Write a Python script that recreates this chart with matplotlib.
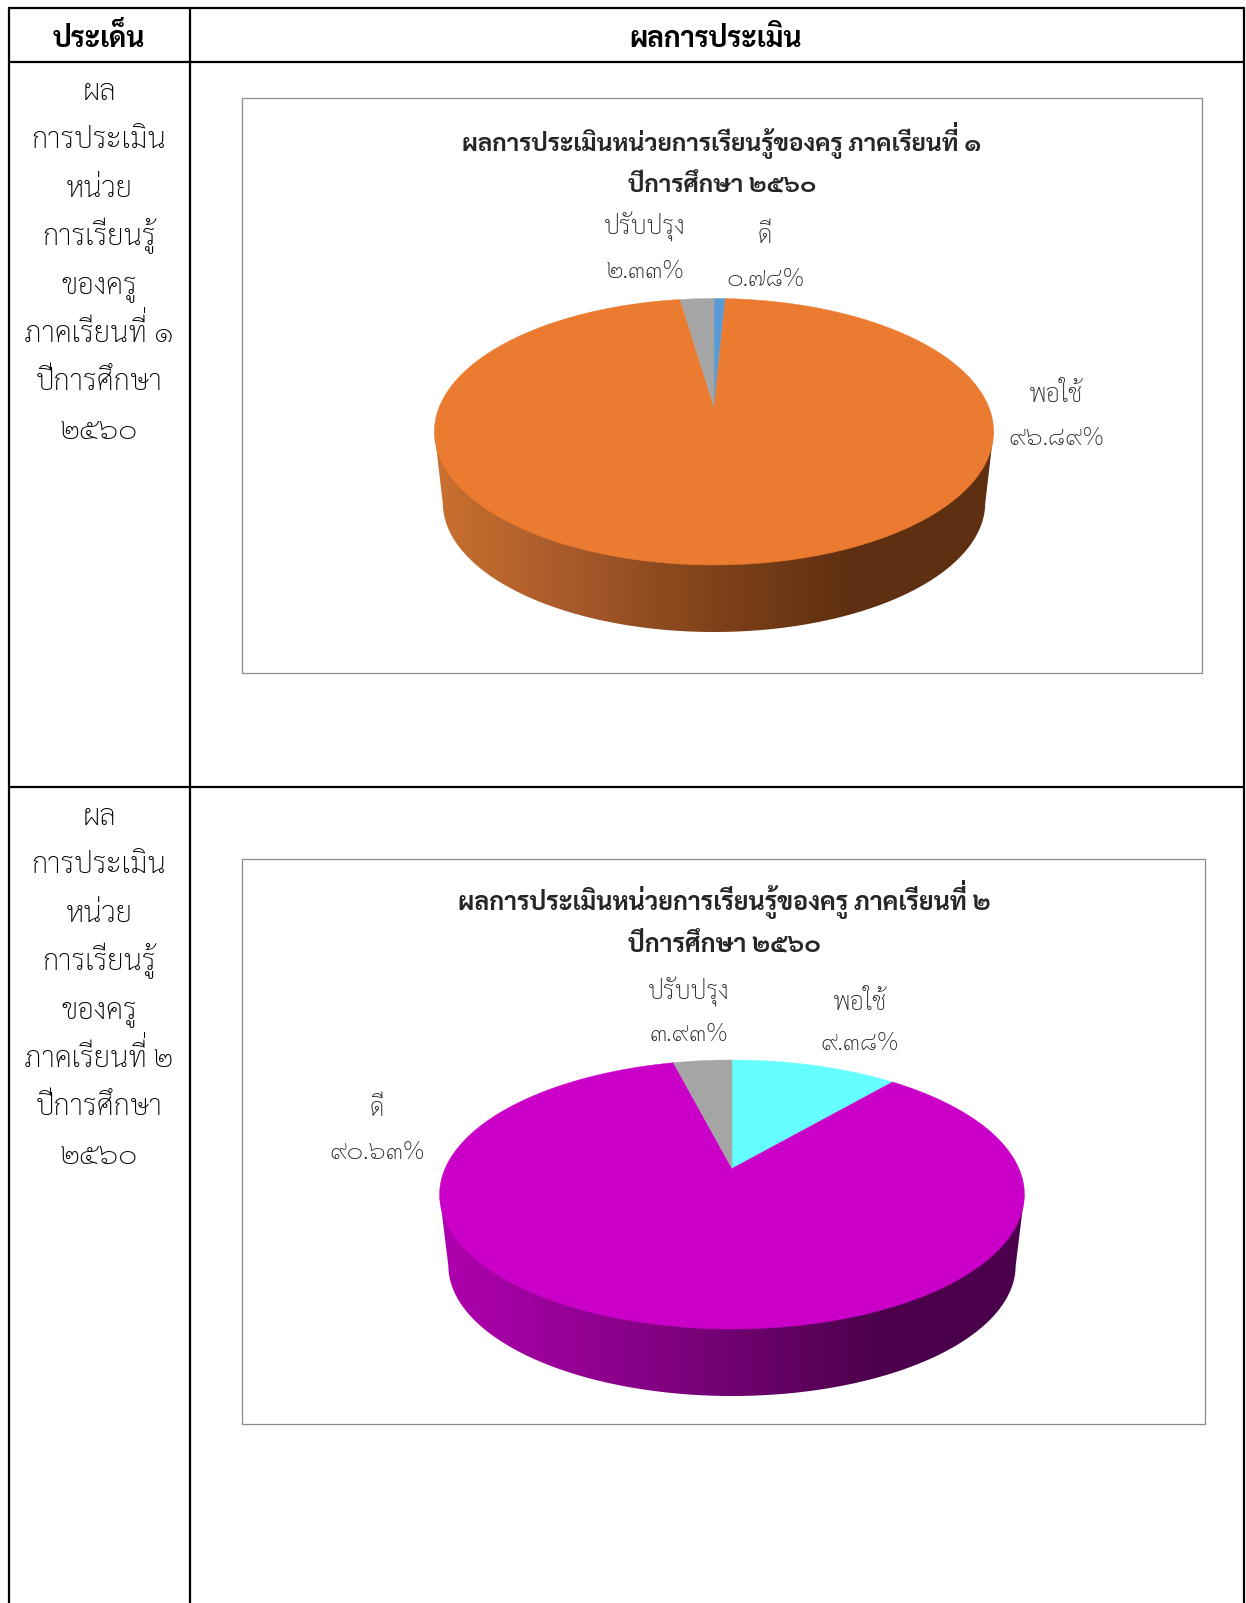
import matplotlib
matplotlib.use("Agg")
import matplotlib.pyplot as plt
import numpy as np
from matplotlib.colors import LinearSegmentedColormap
from matplotlib.font_manager import FontProperties
from matplotlib.patches import PathPatch, Polygon, Rectangle
from matplotlib.textpath import TextPath
from matplotlib.transforms import Affine2D

plt.rcParams['font.family'] = ['Sarabun', 'Noto Sans Thai', 'DejaVu Sans']

# ---- data ----
headers = ["ประเด็น", "ผลการประเมิน"]
row1_lines = ["ผล", "การประเมิน", "หน่วย", "การเรียนรู้", "ของครู", "ภาคเรียนที่ ๑", "ปีการศึกษา", "๒๕๖๐"]
row2_lines = ["ผล", "การประเมิน", "หน่วย", "การเรียนรู้", "ของครู", "ภาคเรียนที่ ๒", "ปีการศึกษา", "๒๕๖๐"]

title1 = ["ผลการประเมินหน่วยการเรียนรู้ของครู ภาคเรียนที่ ๑", "ปีการศึกษา ๒๕๖๐"]
title2 = ["ผลการประเมินหน่วยการเรียนรู้ของครู ภาคเรียนที่ ๒", "ปีการศึกษา ๒๕๖๐"]

# clockwise from 12 o'clock, shares as drawn in the picture
shares1 = [0.78, 96.89, 2.33]
colors1 = ["#5B9BD5", "#EA7B30", "#A5A5A5"]
names1 = ["ดี", "พอใช้", "ปรับปรุง"]
labels1 = ["๐.๗๘%", "๙๖.๘๙%", "๒.๓๓%"]

shares2 = [11.1, 85.0, 3.9]
colors2 = ["#66FFFF", "#CA00C8", "#A5A5A5"]
names2 = ["พอใช้", "ดี", "ปรับปรุง"]
labels2 = ["๙.๓๘%", "๙๐.๖๓%", "๓.๙๓%"]

wall1 = ["#CB7030", "#A6592A", "#7F4219", "#5E2F11", "#5E2F11"]
wall2 = ["#AE00AE", "#930093", "#700070", "#4B004B", "#4B004B"]


def project(theta, cx, top, apex, bottom, rx):
    # circle in the pie plane seen with perspective, theta clockwise from top
    up = apex - top
    down = bottom - apex
    k = (down - up) / (down + up)
    s = up * (1 + k)
    a = rx * np.sqrt(1 - k ** 2)
    u, v = np.sin(theta), np.cos(theta)
    f = 1 / (1 + k * v)
    return cx + a * u * f, apex - s * v * f


def draw_pie(ax, shares, colors, wall, cx, top, apex, bottom, rx, low, shrink):
    t = np.linspace(0, 2 * np.pi, 721)
    x, y = project(t, cx, top, apex, bottom, rx)

    # lower rim: same circle, a bit smaller and pushed down
    xl = cx + (x - cx) * shrink
    yl = low - (bottom - y) * shrink
    front = (yl > (yl.min() + yl.max()) / 2)
    lower = np.column_stack([xl[front], yl[front]])
    lower = lower[np.argsort(lower[:, 0])]
    yc = (top + bottom) / 2
    outline = np.vstack([[[cx - rx, yc]], lower, [[cx + rx, yc]]])
    hull = Polygon(outline, closed=True, fc="none", ec="none")
    ax.add_patch(hull)

    cmap = LinearSegmentedColormap.from_list("wall", wall)
    grad = np.linspace(0, 1, 256)[None, :]
    im = ax.imshow(grad, cmap=cmap, aspect="auto", zorder=2,
                   extent=[cx - rx, cx + rx, low, yc])
    im.set_clip_path(hull)

    edges = np.cumsum([0] + list(shares)) / sum(shares) * 2 * np.pi
    for i in range(len(shares)):
        n = max(int((edges[i + 1] - edges[i]) * 120), 4)
        th = np.linspace(edges[i], edges[i + 1], n)
        wx, wy = project(th, cx, top, apex, bottom, rx)
        verts = np.column_stack([np.r_[cx, wx], np.r_[apex, wy]])
        ax.add_patch(Polygon(verts, closed=True, fc=colors[i], ec=colors[i], lw=0.3, zorder=3))


def thai_line(ax, x, y, line, **kw):
    # no mark stacking in matplotlib, so the tone mark of ที่ hides in the sara ii: draw its shape above
    t = ax.text(x, y, line, ha="center", va="baseline", **kw)
    if "ที่" in line:
        r = fig.canvas.get_renderer()
        stem = line[:line.index("ที่") + 2]
        tmp = ax.text(0, 0, stem, **kw)
        w_stem = tmp.get_window_extent(r).width
        tmp.remove()
        w_full = t.get_window_extent(r).width
        fs = kw["fontsize"]
        prop = FontProperties(family="Sarabun", weight=kw["fontweight"])
        path = TextPath((0, 0), "\u0e48", size=fs * 100 / 72, prop=prop)
        place = Affine2D().scale(1, -1).translate(x - w_full / 2 + w_stem, y - fs * 0.42)
        ax.add_patch(PathPatch(path, fc=kw["color"], ec="none", zorder=6, transform=place + ax.transData))
    return t


fig = plt.figure(figsize=(12.46, 16.03), dpi=100)
ax = fig.add_axes([0, 0, 1, 1])
ax.set_xlim(0, 1246)
ax.set_ylim(1603, 0)

# table rules
for xs, ys in [([9, 9], [8, 1603]), ([190, 190], [8, 1603]), ([1244, 1244], [8, 1603]),
               ([8, 1245], [8, 8]), ([8, 1245], [62, 62]), ([8, 1245], [787, 787])]:
    ax.plot(xs, ys, color="black", lw=1.6, zorder=5, solid_capstyle="butt")

# chart frames
ax.add_patch(Rectangle((242, 98), 960, 575, fc="white", ec="#8C8C8C", lw=0.9, zorder=1))
ax.add_patch(Rectangle((242, 859), 963, 565, fc="white", ec="#8C8C8C", lw=0.9, zorder=1))

draw_pie(ax, shares1, colors1, wall1, 714, 298.5, 407, 565, 279.6, 632, 0.97)
draw_pie(ax, shares2, colors2, wall2, 732, 1060, 1168.5, 1329, 292.4, 1396, 0.97)

# header + left column
ax.text(99, 47, headers[0], ha="center", va="baseline", fontsize=20.2, fontweight="bold")
ax.text(716, 47, headers[1], ha="center", va="baseline", fontsize=20.2, fontweight="bold")
for i, line in enumerate(row1_lines):
    thai_line(ax, 99, 100 + i * 48.4, line, fontsize=21, fontweight="light", color="black")
for i, line in enumerate(row2_lines):
    thai_line(ax, 99, 825 + i * 48.4, line, fontsize=21, fontweight="light", color="black")

# chart titles
thai_line(ax, 722, 151, title1[0], fontsize=17.6, fontweight="bold", color="#262626")
ax.text(722, 193, title1[1], ha="center", va="baseline", fontsize=17.6, fontweight="bold", color="#262626")
thai_line(ax, 724, 910, title2[0], fontsize=18, fontweight="bold", color="#262626")
ax.text(724, 952, title2[1], ha="center", va="baseline", fontsize=18, fontweight="bold", color="#262626")

# data labels
lab_pos1 = [(765, 243, 286), (1056, 402, 445), (645, 235, 278)]
lab_pos2 = [(860, 1010, 1050), (377, 1116, 1159), (689, 1000, 1041)]
for names, labels, pos in [(names1, labels1, lab_pos1), (names2, labels2, lab_pos2)]:
    for n, l, (x, y1, y2) in zip(names, labels, pos):
        ax.text(x, y1, n, ha="center", va="baseline", fontsize=18, fontweight="light", color="#262626")
        ax.text(x, y2, l, ha="center", va="baseline", fontsize=18.4, fontweight="light", color="#262626")

ax.set_xlim(0, 1246)
ax.set_ylim(1603, 0)
ax.axis("off")
fig.savefig("out.png", dpi=100)
